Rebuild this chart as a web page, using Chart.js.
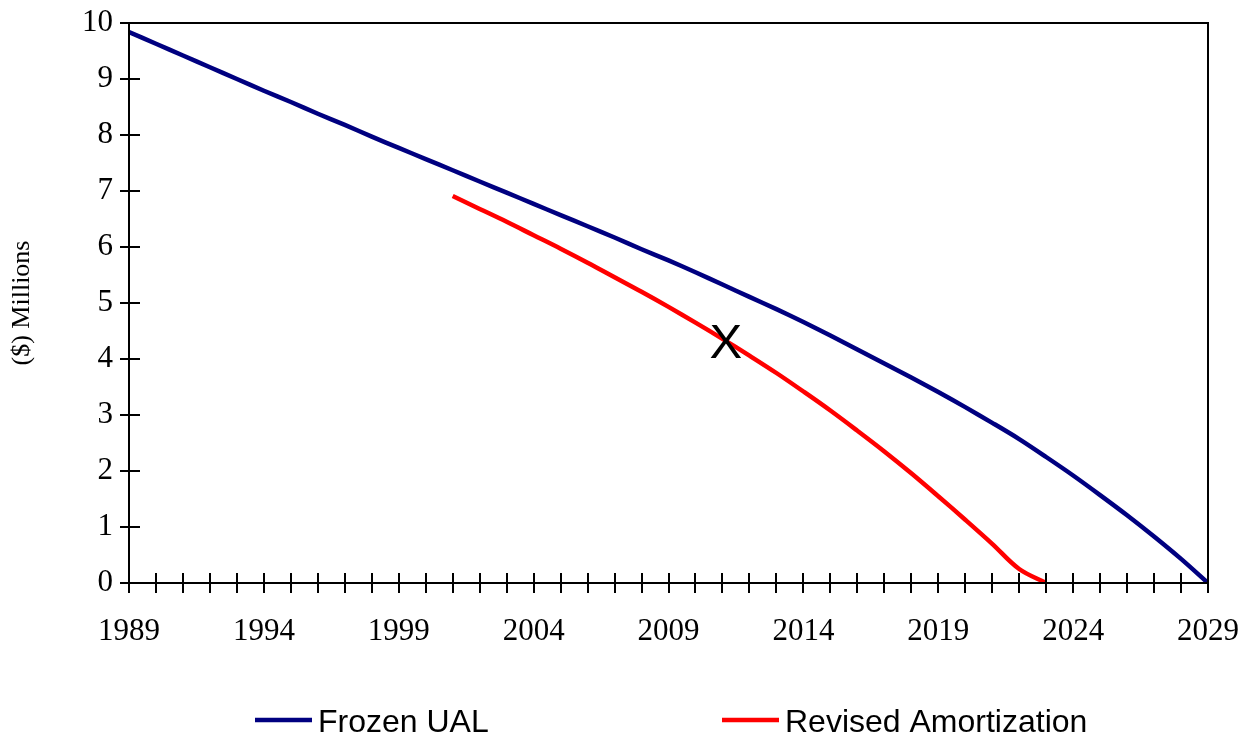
<!DOCTYPE html>
<html><head><meta charset="utf-8">
<script src="https://cdn.jsdelivr.net/npm/chart.js@4.4.1/dist/chart.umd.min.js"></script>
<style>html,body{margin:0;padding:0;background:#fff;} #wrap{width:1252px;height:736px;}</style>
</head><body><div id="wrap"><canvas id="c" width="1252" height="736"></canvas></div>
<script>
const years = [1989,1990,1991,1992,1993,1994,1995,1996,1997,1998,1999,2000,2001,2002,2003,2004,2005,2006,2007,2008,2009,2010,2011,2012,2013,2014,2015,2016,2017,2018,2019,2020,2021,2022,2023,2024,2025,2026,2027,2028,2029];
const frozenUAL = [9.84,9.63,9.42,9.21,9.00,8.79,8.59,8.38,8.18,7.97,7.77,7.57,7.37,7.17,6.97,6.77,6.57,6.37,6.17,5.96,5.76,5.55,5.33,5.11,4.89,4.66,4.42,4.17,3.92,3.67,3.41,3.14,2.86,2.57,2.25,1.92,1.57,1.21,0.83,0.43,0.00];
const revisedAmortization = [null,null,null,null,null,null,null,null,null,null,null,null,6.91,6.68,6.45,6.21,5.97,5.72,5.46,5.20,4.93,4.65,4.36,4.06,3.75,3.42,3.08,2.72,2.35,1.96,1.55,1.13,0.70,0.25,0.00,null,null,null,null,null,null];
const xTickLabels = ['1989','1994','1999','2004','2009','2014','2019','2024','2029'];
const seriesNames = ['Frozen UAL','Revised Amortization'];
const seriesColors = ['#000080','#FF0000'];
const yTitle = '($) Millions';
const markerText = 'X';
const markerYear = 2011.13;
const markerValue = 4.33;

const toPoints = vals => years.map((y,i)=>({x:y,y:vals[i]}));

const extras = {
  id:'extras',
  afterDraw(chart){
    const {ctx, chartArea:a, scales:{x,y}} = chart;
    ctx.save();
    ctx.strokeStyle='#000'; ctx.lineWidth=2;
    ctx.strokeRect(a.left, a.top, a.right-a.left, a.bottom-a.top);
    ctx.beginPath();
    x.ticks.forEach(t=>{const px=Math.round(x.getPixelForValue(t.value)); ctx.moveTo(px,a.bottom); ctx.lineTo(px,a.bottom-10);});
    y.ticks.forEach(t=>{const py=Math.round(y.getPixelForValue(t.value)); ctx.moveTo(a.left,py); ctx.lineTo(a.left+11,py);});
    ctx.stroke();
    const fs=49;
    ctx.fillStyle='#000';
    ctx.font=fs+'px "Liberation Sans", Arial, sans-serif';
    ctx.textAlign='center'; ctx.textBaseline='alphabetic';
    ctx.fillText(markerText, x.getPixelForValue(markerYear), y.getPixelForValue(markerValue)+fs*0.716/2);
    const lx=[255,722], ly=720;
    chart.data.datasets.forEach((ds,i)=>{
      ctx.strokeStyle=ds.borderColor; ctx.lineWidth=4.5;
      ctx.beginPath(); ctx.moveTo(lx[i],ly); ctx.lineTo(lx[i]+57,ly); ctx.stroke();
      ctx.fillStyle='#000';
      ctx.font='32px "Liberation Sans", Arial, sans-serif';
      ctx.textAlign='left'; ctx.textBaseline='alphabetic';
      ctx.fillText(ds.label, lx[i]+63, ly+11.5);
    });
    ctx.restore();
  }
};

const zeroPad = s => { s.paddingLeft=0; s.paddingRight=0; s.paddingTop=0; s.paddingBottom=0; };

new Chart(document.getElementById('c'),{
  type:'line',
  data:{datasets:[
    {label:seriesNames[0], data:toPoints(frozenUAL), borderColor:seriesColors[0], backgroundColor:seriesColors[0], borderWidth:4.5, pointRadius:0, tension:0.3, fill:false},
    {label:seriesNames[1], data:toPoints(revisedAmortization), borderColor:seriesColors[1], backgroundColor:seriesColors[1], borderWidth:4.5, pointRadius:0, tension:0.35, fill:false, spanGaps:false}
  ]},
  options:{
    responsive:false, animation:false, devicePixelRatio:1,
    layout:{padding:{top:23,right:44,left:0,bottom:0}},
    plugins:{legend:{display:false}, tooltip:{enabled:false}},
    scales:{
      x:{type:'linear', min:1989, max:2029,
        afterFit(s){s.height=153; zeroPad(s);},
        border:{display:true,color:'#000',width:2},
        grid:{display:true,drawOnChartArea:false,drawTicks:true,tickLength:10,color:'#000',lineWidth:2},
        ticks:{stepSize:1, autoSkip:false, maxTicksLimit:100, maxRotation:0, padding:20, color:'#000',
          font:{family:'"Liberation Serif","Times New Roman",serif', size:31},
          callback:(v)=> xTickLabels.includes(String(v)) ? String(v) : ''}
      },
      y:{min:0,max:10,
        afterFit(s){s.width=129; zeroPad(s);},
        border:{display:true,color:'#000',width:2},
        grid:{display:true,drawOnChartArea:false,drawTicks:true,tickLength:9,color:'#000',lineWidth:2},
        ticks:{stepSize:1, padding:7, color:'#000',
          font:{family:'"Liberation Serif","Times New Roman",serif', size:31}},
        title:{display:true,text:yTitle,color:'#000',padding:{top:7,bottom:0},
          font:{family:'"Liberation Serif","Times New Roman",serif', size:26}}
      }
    }
  },
  plugins:[extras]
});
</script></body></html>
